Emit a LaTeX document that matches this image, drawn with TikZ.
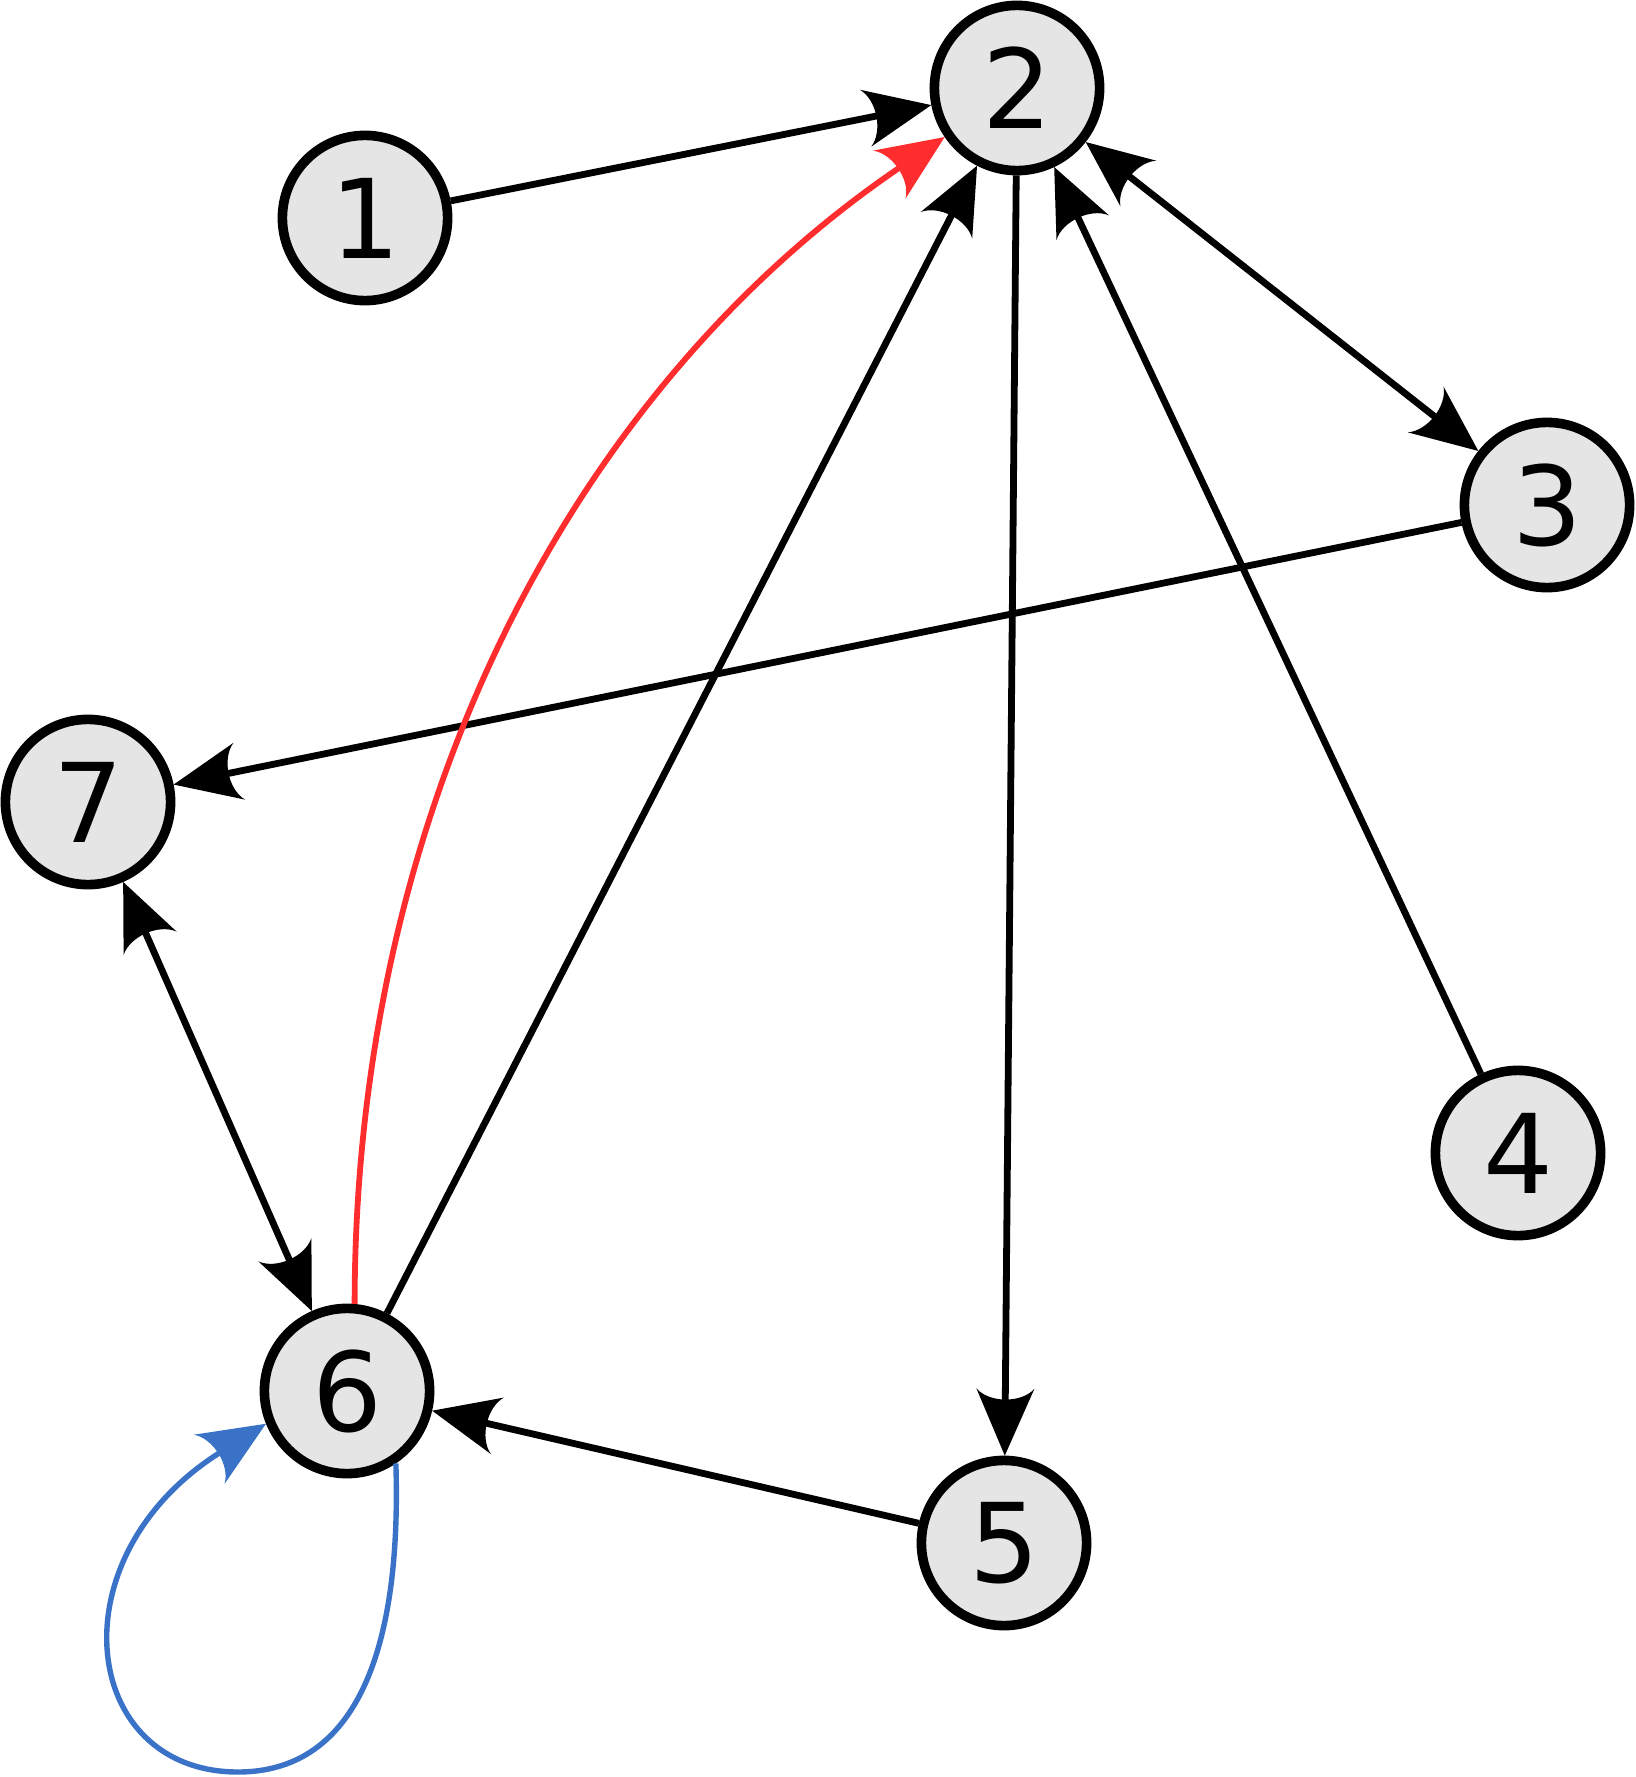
\documentclass[tikz,border=0pt]{standalone}
\usepackage{fontspec}
\setmainfont{DejaVu Sans}
\usetikzlibrary{arrows.meta}
\pgfdeclarearrow{
  name = GT,
  setup code = {
    \pgfarrowssettipend{0pt}
    \pgfarrowssetbackend{-33.5pt}
    \pgfarrowssetlineend{-26.5pt}
    \pgfarrowssetvisualbackend{-28pt}
    \pgfarrowsupperhullpoint{-33.5pt}{14.5pt}
    \pgfarrowsupperhullpoint{0pt}{0pt}
  },
  drawing code = {
    \pgfpathmoveto{\pgfpoint{0pt}{0pt}}
    \pgfpathlineto{\pgfpoint{-33.5pt}{14.5pt}}
    \pgfpathcurveto{\pgfpoint{-26.2pt}{8pt}}{\pgfpoint{-26.2pt}{-8pt}}{\pgfpoint{-33.5pt}{-14.5pt}}
    \pgfpathclose
    \pgfusepathqfill
  }
}
\definecolor{nodegray}{HTML}{E5E5E5}
\definecolor{edgered}{RGB}{255,45,45}
\definecolor{edgeblue}{RGB}{58,114,200}
\begin{document}
\begin{tikzpicture}[x=0.5pt,y=-0.5pt,
  vertex/.style={circle, draw=black, line width=4.8pt, fill=nodegray,
    minimum size=82.6pt, inner sep=0pt, text=black,
    font=\fontsize{55}{60}\selectfont},
  edge/.style={line width=3.4pt, color=black, -GT},
  biedge/.style={line width=3.4pt, color=black, GT-GT},
  rededge/.style={line width=2.9pt, color=edgered, -GT},
  blueedge/.style={line width=2.7pt, color=edgeblue, -GT}]
\useasboundingbox (0,0) rectangle (1635,1777);
\node[vertex] (n1) at (365,218) {1};
\node[vertex] (n2) at (1017,88) {2};
\node[vertex] (n3) at (1547,505) {3};
\node[vertex] (n4) at (1518,1153) {4};
\node[vertex] (n5) at (1004,1543) {5};
\node[vertex] (n6) at (347,1391) {6};
\node[vertex] (n7) at (88,802) {7};
\draw[edge] (n1) -- (n2);
\draw[edge] (n6) -- (n2);
\draw[edge] (n4) -- (n2);
\draw[edge] (n2) -- (n5);
\draw[biedge] (n2) -- (n3);
\draw[edge] (n3) -- (n7);
\draw[biedge] (n7) -- (n6);
\draw[edge] (n5) -- (n6);
\draw[rededge] (n6.85) .. controls (355,803) and (576,387) .. (n2);
\coordinate (loopbottom) at (238,1772);
\draw[blueedge] (n6.-56) .. controls (402,1662) and (350,1772) .. (loopbottom)
  .. controls (80,1772) and (53,1557) .. (n6.202);
\end{tikzpicture}
\end{document}
